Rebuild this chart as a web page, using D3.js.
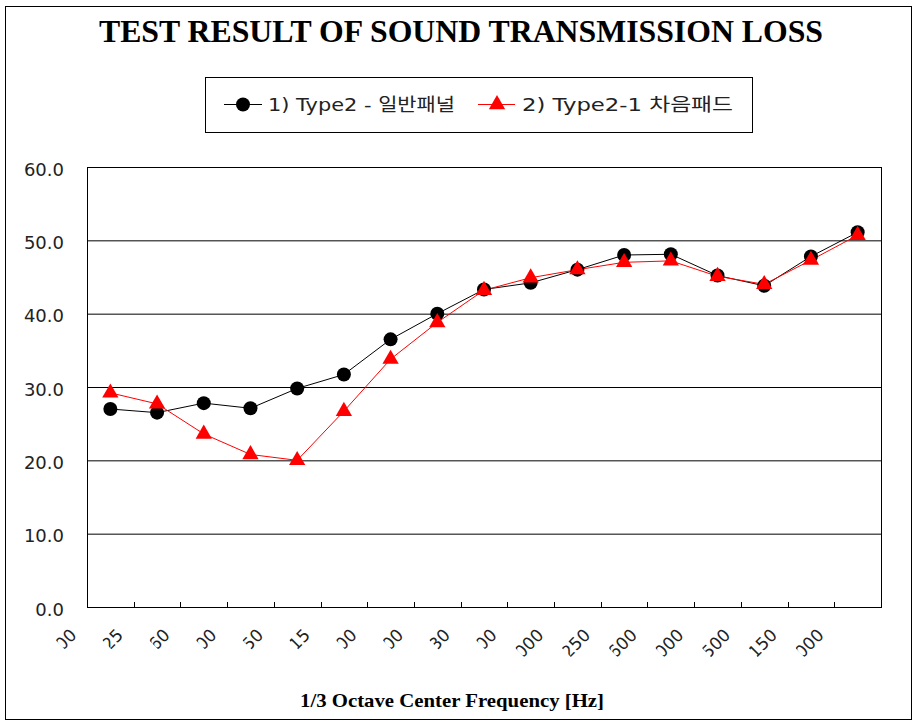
<!DOCTYPE html>
<html><head><meta charset="utf-8">
<script src="https://cdn.jsdelivr.net/npm/d3@7"></script>
<style>body{margin:0;background:#fff;}svg{display:block;}</style>
</head><body>
<script>
const categories = ["100","125","160","200","250","315","400","500","630","800","1000","1250","1600","2000","2500","3150","4000"];
const seriesNames = ["1) Type2 - 일반패널", "2) Type2-1 차음패드"];
const type2 = [27.0,26.5,27.8,27.1,29.8,31.7,36.5,40.0,43.3,44.2,46.0,48.0,48.1,45.2,43.8,47.8,51.1];
const type21 = [29.2,27.7,23.6,20.8,20.0,26.7,33.8,38.8,43.2,44.9,46.0,47.0,47.2,45.1,44.0,47.3,50.7];
const yTicks = [0,10,20,30,40,50,60];
const title = "TEST RESULT OF SOUND TRANSMISSION LOSS";
const xTitle = "1/3 Octave Center Frequency [Hz]";

const W = 922, H = 728;
const svg = d3.select("body").append("svg").attr("width", W).attr("height", H);
const sans = "'DejaVu Sans','Noto Sans CJK KR',sans-serif";
const serif = "'Liberation Serif','Times New Roman',serif";

// outer frame
svg.append("rect").attr("x",5.5).attr("y",6.5).attr("width",906).attr("height",713)
  .attr("fill","#fff").attr("stroke","#000").attr("stroke-width",1);

// title
svg.append("text").attr("x",461).attr("y",42).attr("text-anchor","middle")
  .attr("font-family",serif).attr("font-weight","bold").attr("font-size",31)
  .attr("textLength",724).attr("lengthAdjust","spacingAndGlyphs").text(title);

const L = 87, R = 881, T = 167, B = 607;
const x = d3.scaleBand().domain(categories).range([L, R]).padding(0);
const y = d3.scaleLinear().domain([0,60]).range([B, T]);
const cx = d => x(d) + x.bandwidth()/2;

// gridlines + y labels
const ya = svg.append("g").attr("transform",`translate(${L},0)`)
  .call(d3.axisLeft(y).tickValues(yTicks).tickSize(-(R-L)).tickPadding(23).tickFormat(d3.format(".1f")));
ya.select(".domain").remove();
ya.selectAll(".tick line").attr("stroke","#000").attr("stroke-width",1);
ya.selectAll(".tick text").attr("font-family",sans).attr("font-size",18).attr("fill","#222").attr("dy","0.45em");

// plot frame
svg.append("rect").attr("x",L+0.5).attr("y",T+0.5).attr("width",R-L).attr("height",B-T)
  .attr("fill","none").attr("stroke","#000");

// x axis ticks (inward)
const xa = svg.append("g").attr("transform",`translate(0,${B})`);
categories.forEach((c,i)=>{ if(i>0){
  xa.append("line").attr("x1",Math.round(x(c))+0.5).attr("x2",Math.round(x(c))+0.5).attr("y1",0).attr("y2",-5).attr("stroke","#000");
}});

// x labels (rotated; each clipped so only its trailing part shows, as in the reference)
const defs = svg.append("defs");
const cw = 10.8;
categories.forEach((c,i)=>{
  const vis = (c.length - 1.3) * cw;
  defs.append("clipPath").attr("id","xc"+i).append("rect")
    .attr("x",-vis).attr("y",-20).attr("width",vis+20).attr("height",40);
  const g = svg.append("g").attr("transform",`translate(${cx(c)-37},632) rotate(-45)`)
    .attr("clip-path",`url(#xc${i})`);
  g.append("text").attr("text-anchor","end").attr("dy","0.35em")
    .attr("font-family",sans).attr("font-size",17).attr("fill","#222").text(c);
});

// x title
svg.append("text").attr("x",452).attr("y",707).attr("text-anchor","middle")
  .attr("font-family",serif).attr("font-weight","bold").attr("font-size",19)
  .attr("textLength",304).attr("lengthAdjust","spacingAndGlyphs").text(xTitle);

// lines
const line = d3.line().x((d,i)=>cx(categories[i])).y(d=>y(d));
svg.append("path").datum(type2).attr("d",line).attr("fill","none").attr("stroke","#000").attr("stroke-width",1);
svg.append("path").datum(type21).attr("d",line).attr("fill","none").attr("stroke","#f00").attr("stroke-width",1);

const tri = d3.symbol().type(d3.symbolTriangle).size(115);
svg.append("g").selectAll("circle").data(type2).join("circle")
  .attr("cx",(d,i)=>cx(categories[i])).attr("cy",d=>y(d)).attr("r",7).attr("fill","#000");
svg.append("g").selectAll("path").data(type21).join("path")
  .attr("d",tri).attr("transform",(d,i)=>`translate(${cx(categories[i])},${y(d)})`).attr("fill","#f00");

// legend
svg.append("rect").attr("x",205.5).attr("y",77.5).attr("width",547).attr("height",55)
  .attr("fill","#fff").attr("stroke","#000");
const lg = svg.append("g");
lg.append("line").attr("x1",224).attr("x2",262).attr("y1",104.5).attr("y2",104.5).attr("stroke","#000");
lg.append("circle").attr("cx",243).attr("cy",104.5).attr("r",7).attr("fill","#000");
lg.append("text").attr("x",268).attr("y",111).attr("font-family",sans).attr("font-size",18).attr("fill","#222")
  .attr("textLength",187).attr("lengthAdjust","spacingAndGlyphs").text(seriesNames[0]);
lg.append("line").attr("x1",478).attr("x2",515).attr("y1",104.5).attr("y2",104.5).attr("stroke","#f00");
lg.append("path").attr("d",tri).attr("transform","translate(497,104.5)").attr("fill","#f00");
lg.append("text").attr("x",522).attr("y",111).attr("font-family",sans).attr("font-size",18).attr("fill","#222")
  .attr("textLength",211).attr("lengthAdjust","spacingAndGlyphs").text(seriesNames[1]);
</script>
</body></html>
